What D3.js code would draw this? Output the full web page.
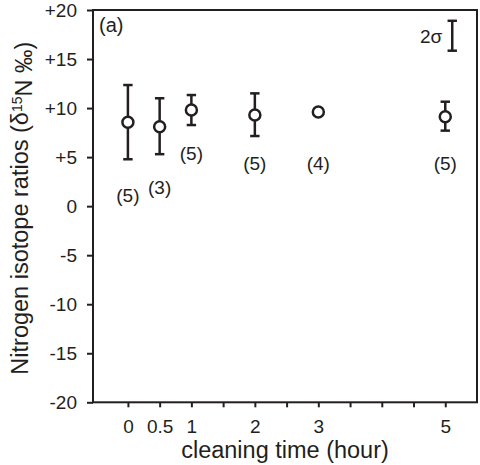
<!DOCTYPE html>
<html>
<head>
<meta charset="utf-8">
<script src="https://cdn.jsdelivr.net/npm/d3@7"></script>
<style>
  body { margin: 0; background: #fff; }
  svg { display: block; font-family: "Liberation Sans", Arial, Helvetica, sans-serif; }
</style>
</head>
<body>
<svg id="chart" width="480" height="465"></svg>
<script>
// cleaning time (hour) and nitrogen isotope ratios (per mil)
const hours = [0, 0.5, 1, 2, 3, 5];
const means = [8.55, 8.1, 9.8, 9.3, 9.6, 9.12];
const errLow = [4.78, 5.3, 8.27, 7.15, 9.3, 7.7];
const errHigh = [12.35, 11.0, 11.33, 11.5, 9.9, 10.65];
const nLabels = ["(5)", "(3)", "(5)", "(5)", "(4)", "(5)"];
const nLabelY = [1.1, 1.9, 5.4, 4.4, 4.4, 4.4];
const yTicks = [-20, -15, -10, -5, 0, 5, 10, 15, 20];
const xTicks = [0, 0.5, 1, 1.5, 2, 2.5, 3, 3.5, 4, 4.5, 5];
const xLabelled = [0, 0.5, 1, 2, 3, 5];
// 2 sigma reference bar
const sigmaBar = { x: 5.11, low: 15.85, high: 18.9 };

const ink = "#231f20";
const margin = { top: 10, right: 3, bottom: 62.7, left: 93 };
const width = 480, height = 465;

const svg = d3.select("#chart");

const x = d3.scaleLinear()
  .domain([-0.55, 5.5])
  .range([margin.left, width - margin.right]);

const y = d3.scaleLinear()
  .domain([-20, 20])
  .range([height - margin.bottom, margin.top]);

// y axis
const yAxis = svg.append("g")
  .attr("transform", `translate(${margin.left},0)`)
  .call(d3.axisLeft(y).tickValues(yTicks).tickSize(6).tickPadding(10)
    .tickFormat(d => d > 0 ? "+" + d : String(d)));

// x axis
const xAxis = svg.append("g")
  .attr("transform", `translate(0,${y(-20)})`)
  .call(d3.axisBottom(x).tickValues(xTicks).tickSize(5).tickPadding(12)
    .tickFormat(d => xLabelled.includes(d) ? String(d) : ""));

[yAxis, xAxis].forEach(g => {
  g.select(".domain").remove();
  g.selectAll(".tick line").attr("stroke", ink).attr("stroke-width", 2);
  g.selectAll(".tick text").attr("fill", ink).style("font-size", "19px");
});

// frame
svg.append("rect")
  .attr("x", x(-0.55))
  .attr("y", y(20))
  .attr("width", x(5.5) - x(-0.55))
  .attr("height", y(-20) - y(20))
  .attr("fill", "none")
  .attr("stroke", ink)
  .attr("stroke-width", 2);

// error bars
const cap = 4.7;
const bars = svg.append("g").attr("stroke", ink).attr("stroke-width", 2.5);
hours.forEach((h, i) => {
  bars.append("line")
    .attr("x1", x(h)).attr("x2", x(h))
    .attr("y1", y(errLow[i])).attr("y2", y(errHigh[i]));
  [errLow[i], errHigh[i]].forEach(v => {
    bars.append("line")
      .attr("x1", x(h) - cap).attr("x2", x(h) + cap)
      .attr("y1", y(v)).attr("y2", y(v));
  });
});

// points
svg.append("g").selectAll("circle")
  .data(hours)
  .join("circle")
  .attr("cx", d => x(d))
  .attr("cy", (d, i) => y(means[i]))
  .attr("r", 5.5)
  .attr("fill", "#fff")
  .attr("stroke", ink)
  .attr("stroke-width", 2.5);

// sample counts
svg.append("g").selectAll("text")
  .data(hours)
  .join("text")
  .attr("x", d => x(d))
  .attr("y", (d, i) => y(nLabelY[i]))
  .attr("dy", "0.35em")
  .attr("text-anchor", "middle")
  .attr("fill", ink)
  .style("font-size", "19px")
  .text((d, i) => nLabels[i]);

// 2 sigma bar
const sg = svg.append("g").attr("stroke", ink).attr("stroke-width", 2.5);
sg.append("line")
  .attr("x1", x(sigmaBar.x)).attr("x2", x(sigmaBar.x))
  .attr("y1", y(sigmaBar.low)).attr("y2", y(sigmaBar.high));
[sigmaBar.low, sigmaBar.high].forEach(v => {
  sg.append("line")
    .attr("x1", x(sigmaBar.x) - cap).attr("x2", x(sigmaBar.x) + cap)
    .attr("y1", y(v)).attr("y2", y(v));
});
svg.append("text")
  .attr("x", x(sigmaBar.x) - 10)
  .attr("y", 43)
  .attr("text-anchor", "end")
  .attr("fill", ink)
  .style("font-size", "19px")
  .text("2σ");

// panel label
svg.append("text")
  .attr("x", 99)
  .attr("y", 32)
  .attr("fill", ink)
  .style("font-size", "20px")
  .text("(a)");

// axis titles
svg.append("text")
  .attr("x", (x(-0.55) + x(5.5)) / 2)
  .attr("y", 458)
  .attr("text-anchor", "middle")
  .attr("fill", ink)
  .style("font-size", "23.5px")
  .text("cleaning time (hour)");

const yTitle = svg.append("text")
  .attr("transform", `translate(28,${y(0) + 2}) rotate(-90)`)
  .attr("text-anchor", "middle")
  .attr("fill", ink)
  .style("font-size", "23.5px");
yTitle.append("tspan").text("Nitrogen isotope ratios (δ");
yTitle.append("tspan").attr("dy", "-0.45em").style("font-size", "14px").text("15");
yTitle.append("tspan").attr("dy", "0.45em").text("N ‰)");
</script>
</body>
</html>
